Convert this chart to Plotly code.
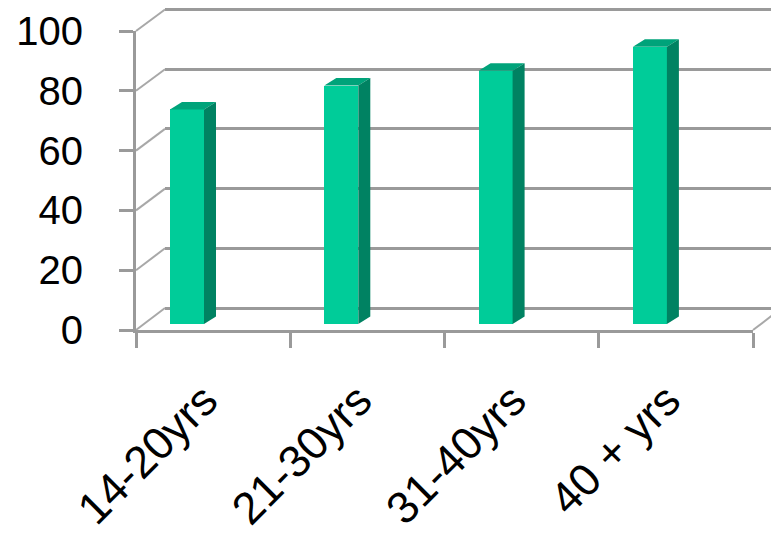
import plotly.graph_objects as go

# ---- data ----
categories = ["14-20yrs", "21-30yrs", "31-40yrs", "40 + yrs"]
values = [72, 80, 85, 93]
y_ticks = [0, 20, 40, 60, 80, 100]

# ---- layout geometry (pixels in a 771x535 canvas) ----
W, H = 771, 535
def px(x):
    return x / W
def py(y):
    return 1 - y / H

# front (labelled) axis
FX0, FX1 = 136, 753
FY0, FY100 = 330, 31
# back wall
BX0 = 165
BY0, BY100 = 308, 9.5
# bar plane
BAR_Y0, BAR_SCALE = 324, 2.98
BAR_C0, BAR_STEP = 187, 154.3

GRID = "#9a9a9a"
FRONT = "#00cc99"
TOP = "#00a37a"
SIDE = "#008262"

def fy(t):
    return FY0 + (FY100 - FY0) * t / 100
def by(t):
    return BY0 + (BY100 - BY0) * t / 100

fig = go.Figure()

fig.add_trace(go.Scatter(x=categories, y=[None] * 4, xaxis="x", yaxis="y",
                         showlegend=False, hoverinfo="skip"))
fig.add_trace(go.Scatter(x=[0, 1], y=[None, None], xaxis="x2", yaxis="y2",
                         showlegend=False, hoverinfo="skip"))
idx = list(range(len(values)))
bw = 34 / BAR_STEP
fig.add_trace(go.Bar(x=idx, y=values, width=bw, marker=dict(color=FRONT, line=dict(width=0)),
                     xaxis="x3", yaxis="y3", showlegend=False))

ddx = 12 / BAR_STEP
ddy = 7.5 / BAR_SCALE
shapes = []
for i, v in zip(idx, values):
    l, r = i - bw / 2, i + bw / 2
    top = f"M {l},{v} L {l+ddx},{v+ddy} L {r+ddx},{v+ddy} L {r},{v} Z"
    side = f"M {r},0 L {r},{v} L {r+ddx},{v+ddy} L {r+ddx},{ddy} Z"
    shapes.append(dict(type="path", path=top, xref="x3", yref="y3",
                       fillcolor=TOP, line=dict(width=0), layer="above"))
    shapes.append(dict(type="path", path=side, xref="x3", yref="y3",
                       fillcolor=SIDE, line=dict(width=0), layer="above"))

for t in y_ticks:
    shapes.append(dict(type="line", xref="paper", yref="paper",
                       x0=px(FX0), y0=py(fy(t)), x1=px(BX0), y1=py(by(t)),
                       line=dict(color="#a8a8a8", width=2), layer="below"))
shapes.append(dict(type="line", xref="paper", yref="paper",
                   x0=px(FX1), y0=py(FY0), x1=px(FX1 + BX0 - FX0), y1=py(BY0),
                   line=dict(color="#a8a8a8", width=2), layer="below"))

font = dict(family="Liberation Sans, Arial, sans-serif", size=40, color="black")
xfont = dict(family="Liberation Sans, Arial, sans-serif", size=45, color="black")

fig.update_layout(
    template="none",
    width=W, height=H,
    margin=dict(l=0, r=0, t=0, b=0, autoexpand=False),
    paper_bgcolor="white",
    plot_bgcolor="rgba(0,0,0,0)",
    showlegend=False,
    bargap=0,
    shapes=shapes,
    font=font,
    xaxis=dict(domain=[px(FX0), px(FX1)], type="category", range=[-0.5, 3.5],
               automargin=False,
               tickvals=categories, ticktext=[c + "\u00a0" for c in categories],
               showline=True, linecolor=GRID, linewidth=3,
               ticks="outside", ticklen=15, tickwidth=3, tickcolor=GRID,
               tickson="boundaries", tickangle=-45, showgrid=False,
               zeroline=False, tickfont=xfont, ticklabelstandoff=14),
    yaxis=dict(domain=[py(FY0), py(FY100)], range=[0, 100], tickvals=y_ticks,
               automargin=False,
               showline=True, linecolor=GRID, linewidth=3,
               ticks="outside", ticklen=14, tickwidth=3, tickcolor=GRID,
               showgrid=False, zeroline=False, tickfont=font, ticklabelstandoff=28),
    xaxis2=dict(domain=[px(BX0), 1], range=[0, 1], visible=False, anchor="y2",
                automargin=False),
    yaxis2=dict(domain=[py(by(-2)), py(by(102))], range=[-2, 102], tickvals=y_ticks,
                automargin=False,
                showgrid=True, gridcolor=GRID, gridwidth=3, zeroline=False,
                showticklabels=False, ticks="", showline=False, anchor="x2"),
    xaxis3=dict(domain=[px(BAR_C0 - BAR_STEP / 2), px(BAR_C0 + 3.5 * BAR_STEP)],
                range=[-0.5, 3.5], visible=False, anchor="y3", automargin=False),
    yaxis3=dict(domain=[py(BAR_Y0), py(BAR_Y0 - 100 * BAR_SCALE)], range=[0, 100],
                visible=False, anchor="x3", automargin=False),
)

fig.write_html("out.html")
